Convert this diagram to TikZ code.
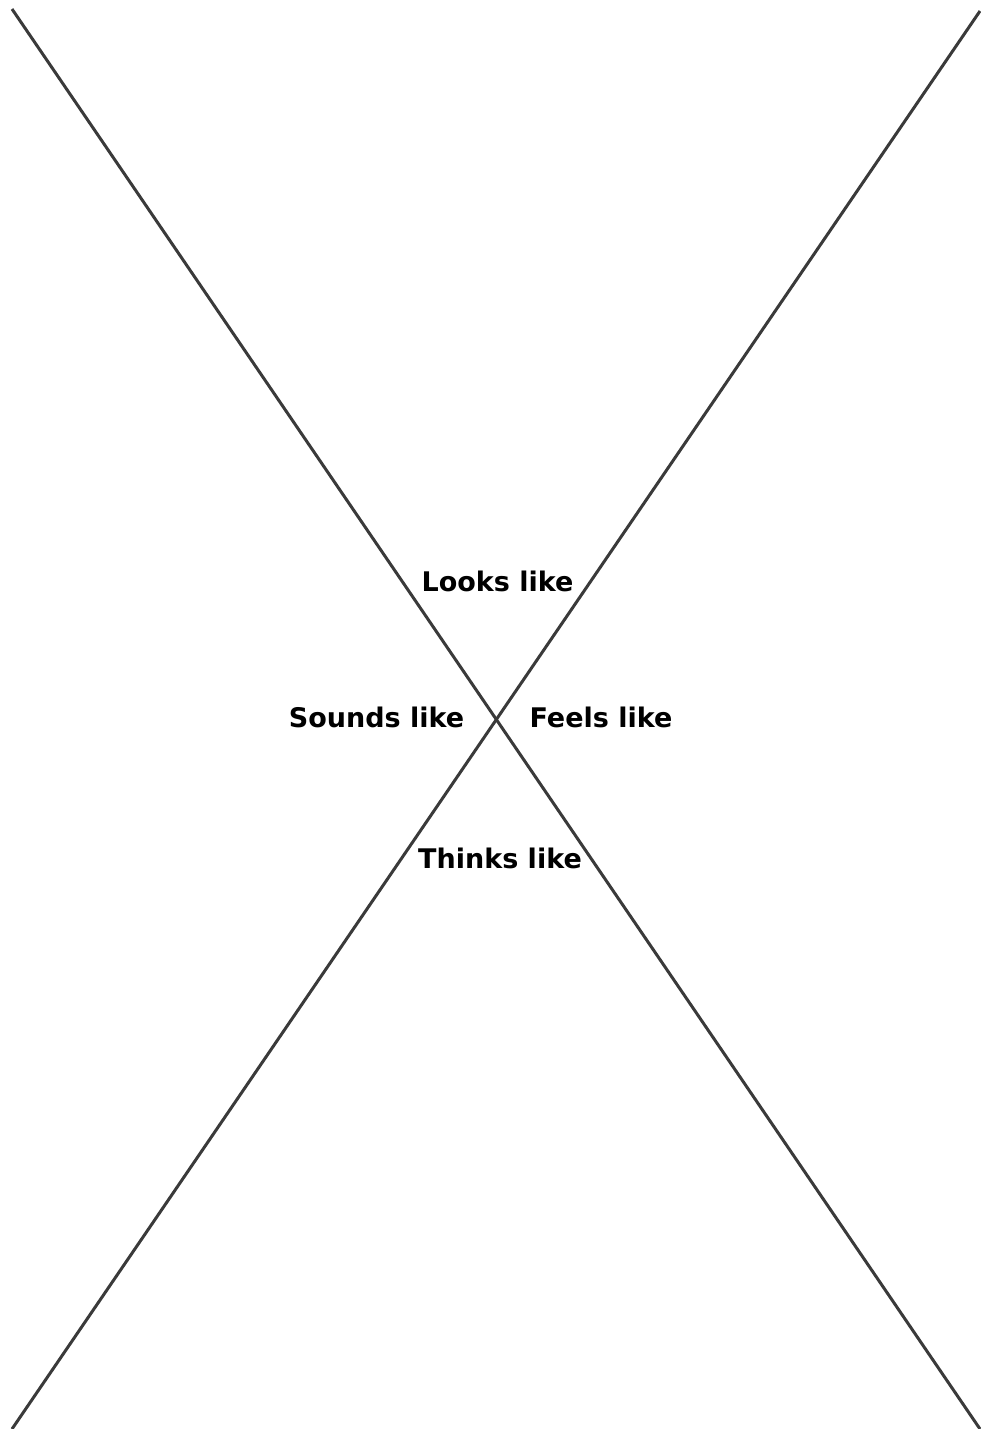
\documentclass[tikz,border=0pt]{standalone}
\usepackage{fontspec}
\setmainfont{DejaVu Sans}
\usetikzlibrary{positioning}
\definecolor{linegray}{HTML}{3A3A3A}
\tikzset{
  crossline/.style={draw=linegray, line width=3pt, line cap=butt},
  quadlabel/.style={inner sep=0pt, anchor=base, font=\fontsize{27}{31}\selectfont\bfseries, text=black},
}

\begin{document}
\begin{tikzpicture}[x=1pt, y=-1pt]
    \useasboundingbox (0,0) rectangle (980,1429);
    % Corners of the two crossing lines
    \coordinate (tl) at (12,9);
    \coordinate (tr) at (980,11);
    \coordinate (bl) at (12,1429);
    \coordinate (br) at (980,1429);
    % Crossing lines
    \draw[crossline] (tl) -- (br);
    \draw[crossline] (tr) -- (bl);
    % Quadrant labels
    \node[quadlabel] (looks)  at (497.5,591) {Looks like};
    \node[quadlabel] (sounds) at (376.5,727) {Sounds like};
    \node[quadlabel] (feels)  at (601,727)   {Feels like};
    \node[quadlabel] (thinks) at (500,868)   {Thinks like};
\end{tikzpicture}
\end{document}
